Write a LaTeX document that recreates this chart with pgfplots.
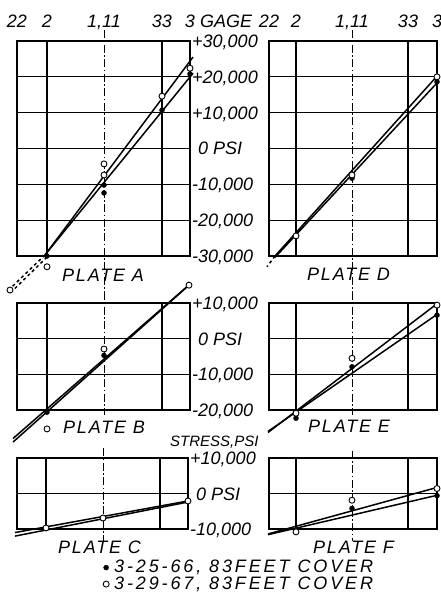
\documentclass[border=0pt]{standalone}
\usepackage{fontspec}
\setmainfont{Liberation Sans}
\newfontfamily\platefamily{Liberation Sans}[LetterSpace=10]
\newfontfamily\keyfamily{Liberation Sans}[LetterSpace=16]
\usepackage{pgfplots}
\pgfplotsset{compat=1.18}

\newcommand\hand{\fontsize{18}{18}\selectfont\itshape}
\newcommand\platef{\fontsize{18}{18}\platefamily\itshape}
\newcommand\keyf{\fontsize{18}{18}\keyfamily\itshape}

\pgfplotsset{
  plate/.style={
    scale only axis, clip=false, anchor=north west,
    axis line style={line width=1.2pt},
    tick style={draw=none}, scaled ticks=false,
    ymajorgrids, grid style={black, line width=1.1pt},
    xmin=0, xticklabels={}, yticklabels={},
  },
  left plate/.style={plate, width=173pt, xmax=173, xtick={0,30,87,145,173},
    yticklabel pos=right,
    yticklabel style={font=\hand, anchor=base west, inner sep=0pt, xshift=2pt, yshift=-6.5pt}},
  right plate/.style={plate, width=168pt, xmax=168, xtick={0,27,83,139,168}},
  top gages/.style={xticklabel pos=right, xticklabels={22,2,{1,11},33,3},
    xticklabel style={font=\hand, anchor=base, inner sep=0pt, yshift=13pt}},
  grid line/.style={black, line width=1.1pt, forget plot},
  centre line/.style={black, line width=0.9pt, dash pattern=on 8pt off 2.5pt on 1.5pt off 2.5pt, forget plot},
  fit/.style={black, line width=1.5pt, forget plot},
  full/.style={only marks, mark=*, mark size=2.5pt, black},
  hollow/.style={only marks, mark=*, mark size=3pt, mark options={fill=white, draw=black, line width=0.9pt}},
}

\begin{document}
\begin{tikzpicture}
\path[use as bounding box] (0,0) rectangle (440pt,-594pt);

% plate A
\begin{axis}[left plate, top gages, at={(17pt,-41pt)}, height=215pt,
  ymin=-30000, ymax=30000, ytick={-30000,-20000,...,30000},
  yticklabels={{-30,000},{-20,000},{-10,000},{\hspace*{6pt}0 PSI},{+10,000},{+20,000},{+30,000}}]
\addplot[grid line] coordinates {(30,-30000)(30,30000)};
\addplot[grid line] coordinates {(145,-30000)(145,30000)};
\addplot[centre line] coordinates {(87,33000)(87,-42500)};
\addplot[fit] coordinates {(28,-29700)(176,25500)};
\addplot[fit] coordinates {(28,-29700)(176,21000)};
\addplot[fit, dashed] coordinates {(28,-29700)(-5,-38600)};
\addplot[fit, dashed] coordinates {(30,-30300)(-3,-39300)};
\addplot[full] coordinates {(30,-30000)(87,-10200)(87,-12400)(145,10700)(173,20800)};
\addplot[hollow] coordinates {(30,-33000)(87,-4300)(87,-7400)(145,14600)(173,22400)(-7,-39500)};
\end{axis}

% plate D
\begin{axis}[right plate, top gages, at={(269pt,-41pt)}, height=215pt,
  ymin=-30000, ymax=30000, ytick={-30000,-20000,...,30000}]
\addplot[grid line] coordinates {(27,-30000)(27,30000)};
\addplot[grid line] coordinates {(139,-30000)(139,30000)};
\addplot[centre line] coordinates {(83,33000)(83,-42500)};
\addplot[fit] coordinates {(6,-30000)(169,20500)};
\addplot[fit] coordinates {(6,-30400)(169,18600)};
\addplot[fit, dashed] coordinates {(6,-30000)(-2,-33000)};
\addplot[full] coordinates {(27,-24400)(83,-8300)(168,18600)};
\addplot[hollow] coordinates {(27,-24400)(83,-7400)(168,20000)};
\end{axis}

% plate B
\begin{axis}[left plate, at={(17pt,-303pt)}, height=107pt,
  ymin=-20000, ymax=10000, ytick={-20000,-10000,0,10000},
  yticklabels={{-20,000},{-10,000},{\hspace*{6pt}0 PSI},{+10,000}}]
\addplot[grid line] coordinates {(30,-20000)(30,10000)};
\addplot[grid line] coordinates {(145,-20000)(145,10000)};
\addplot[centre line] coordinates {(87,13000)(87,-21500)};
\addplot[fit] coordinates {(-4,-29000)(172,15000)};
\addplot[fit] coordinates {(-4,-28000)(170,14600)};
\addplot[full] coordinates {(30,-20600)(87,-4700)(172,15000)};
\addplot[hollow] coordinates {(30,-25300)(87,-2900)(172,15000)};
\end{axis}

% plate E
\begin{axis}[right plate, at={(269pt,-303pt)}, height=107pt,
  ymin=-20000, ymax=10000, ytick={-20000,-10000,0,10000}]
\addplot[grid line] coordinates {(27,-20000)(27,10000)};
\addplot[grid line] coordinates {(139,-20000)(139,10000)};
\addplot[centre line] coordinates {(83,13000)(83,-21500)};
\addplot[fit] coordinates {(-1,-26300)(169,10000)};
\addplot[fit] coordinates {(-1,-26000)(169,7000)};
\addplot[full] coordinates {(27,-22300)(83,-7900)(168,6600)};
\addplot[hollow] coordinates {(27,-20900)(83,-5500)(168,9400)};
\end{axis}

% plate C, carries the key
\begin{axis}[left plate, at={(17pt,-458pt)}, width=171pt, xmax=171,
  xtick={0,29,86,143,171}, height=71pt,
  ymin=-10000, ymax=10000, ytick={-10000,0,10000},
  yticklabels={{-10,000},{\hspace*{6pt}0 PSI},{+10,000}},
  legend style={at={(0.485,-0.40)}, anchor=north west, draw=none, fill=none,
    font=\keyf, nodes={inner sep=0pt, text height=13pt, text depth=3pt},
    row sep=0.5pt, column sep=5pt, cells={anchor=west}},
  legend image code/.code={\draw[#1] plot coordinates {(0pt,0pt)};}]
\addplot[grid line] coordinates {(29,-10000)(29,10000)};
\addplot[grid line] coordinates {(143,-10000)(143,10000)};
\addplot[centre line] coordinates {(86,12800)(86,-13400)};
\addplot[fit] coordinates {(-2,-11000)(171,-2100)};
\addplot[fit] coordinates {(-2,-12000)(171,-2400)};
\addplot[full] coordinates {(29,-9700)(86,-6900)(171,-2100)};
\addlegendentry{3-25-66, 83FEET COVER}
\addplot[hollow] coordinates {(29,-9700)(86,-6900)(171,-2100)};
\addlegendentry{3-29-67, 83FEET COVER}
\end{axis}

% plate F
\begin{axis}[right plate, at={(269pt,-458pt)}, height=71pt,
  ymin=-10000, ymax=10000, ytick={-10000,0,10000}]
\addplot[grid line] coordinates {(27,-10000)(27,10000)};
\addplot[grid line] coordinates {(139,-10000)(139,10000)};
\addplot[centre line] coordinates {(83,12000)(83,-13400)};
\addplot[fit] coordinates {(-1,-11400)(168,1700)};
\addplot[fit] coordinates {(-1,-11600)(168,-500)};
\addplot[full] coordinates {(27,-10800)(83,-4200)(168,-600)};
\addplot[hollow] coordinates {(27,-10800)(83,-1900)(168,1400)};
\end{axis}

\node[font=\hand, anchor=base west, inner sep=0pt] at (200pt,-28pt) {GAGE};
\node[font=\platef, anchor=base west, inner sep=0pt] at (62pt,-281pt) {PLATE A};
\node[font=\platef, anchor=base west, inner sep=0pt] at (307pt,-280pt) {PLATE D};
\node[font=\platef, anchor=base west, inner sep=0pt] at (63pt,-433pt) {PLATE B};
\node[font=\platef, anchor=base west, inner sep=0pt] at (308pt,-432pt) {PLATE E};
\node[font=\platef, anchor=base west, inner sep=0pt] at (58pt,-553pt) {PLATE C};
\node[font=\platef, anchor=base west, inner sep=0pt] at (313pt,-553pt) {PLATE F};
\node[font=\fontsize{15}{15}\selectfont\itshape, anchor=base west, inner sep=0pt] at (170pt,-446pt) {STRESS,PSI};
\end{tikzpicture}
\end{document}
